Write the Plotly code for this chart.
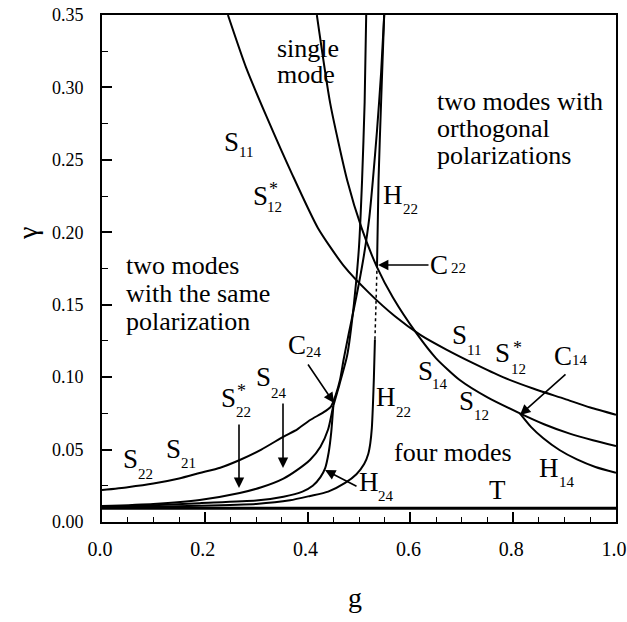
import plotly.graph_objects as go

# ---------------- data ----------------
s11_g = [0.245, 0.28, 0.32, 0.37, 0.42, 0.47, 0.52, 0.57, 0.62, 0.67, 0.72, 0.78, 0.84, 0.90, 0.95, 1.0]
s11_y = [0.350, 0.314, 0.280, 0.240, 0.203, 0.177, 0.158, 0.142, 0.129, 0.119, 0.110, 0.100, 0.092, 0.085, 0.079, 0.074]

s14_g = [0.418, 0.444, 0.477, 0.505, 0.535, 0.566, 0.612, 0.65, 0.696, 0.75, 0.813, 0.86, 0.91, 0.955, 1.0]
s14_y = [0.350, 0.289, 0.236, 0.203, 0.176, 0.155, 0.1302, 0.113, 0.098, 0.086, 0.075, 0.0675, 0.061, 0.0565, 0.0525]

h14_g = [0.813, 0.835, 0.858, 0.89, 0.924, 0.96, 1.0]
h14_y = [0.075, 0.0655, 0.058, 0.0497, 0.0432, 0.038, 0.034]

s22_g = [0.0, 0.05, 0.10, 0.15, 0.19, 0.23, 0.268, 0.31, 0.353, 0.38, 0.405, 0.43, 0.445, 0.455,
         0.463, 0.47, 0.48, 0.49, 0.50, 0.51, 0.52, 0.527, 0.535, 0.543, 0.549]
s22_y = [0.022, 0.024, 0.0265, 0.030, 0.0338, 0.0375, 0.0428, 0.050, 0.0589, 0.064, 0.0704, 0.0755, 0.0795, 0.088,
         0.098, 0.112, 0.130, 0.147, 0.165, 0.185, 0.210, 0.236, 0.270, 0.310, 0.350]

s2_g = [0.0, 0.10, 0.19, 0.268, 0.31, 0.353, 0.38, 0.405, 0.425, 0.44, 0.45, 0.462, 0.477, 0.49, 0.50, 0.506, 0.511, 0.514]
s2_y = [0.011, 0.0125, 0.0152, 0.020, 0.024, 0.030, 0.036, 0.043, 0.052, 0.064, 0.080, 0.095, 0.115, 0.150, 0.190, 0.236, 0.290, 0.350]

h24_g = [0.0, 0.10, 0.19, 0.30, 0.353, 0.39, 0.41, 0.425, 0.434, 0.441, 0.446, 0.45]
h24_y = [0.0105, 0.0115, 0.013, 0.0148, 0.0175, 0.021, 0.025, 0.031, 0.037, 0.048, 0.062, 0.080]

h22_g = [0.0, 0.10, 0.19, 0.30, 0.366, 0.405, 0.44, 0.473, 0.495, 0.510, 0.518, 0.522, 0.525, 0.527, 0.529, 0.531]
h22_y = [0.0102, 0.0106, 0.0112, 0.0125, 0.015, 0.018, 0.021, 0.027, 0.033, 0.040, 0.047, 0.0545, 0.065, 0.080, 0.100, 0.126]
h22_dot_g = [0.531, 0.533, 0.535]
h22_dot_y = [0.126, 0.150, 0.176]
h22_up_g = [0.535, 0.538, 0.543, 0.549]
h22_up_y = [0.176, 0.236, 0.290, 0.350]

t_g = [0.0, 1.0]
t_y = [0.0095, 0.0095]

x_ticks = [0.0, 0.2, 0.4, 0.6, 0.8, 1.0]
x_ticktext = ["0.0", "0.2", "0.4", "0.6", "0.8", "1.0"]
y_ticks = [0.00, 0.05, 0.10, 0.15, 0.20, 0.25, 0.30, 0.35]
y_ticktext = ["0.00", "0.05", "0.10", "0.15", "0.20", "0.25", "0.30", "0.35"]

# ---------------- figure ----------------
FONT = "Liberation Serif"
W, H = 627, 622
ML, MR, MT, MB = 102, 11, 15, 100
PW, PH = W - ML - MR, H - MT - MB


def gx(px):
    return (px - ML) / PW


def gy(py):
    return (MT + PH - py) / PH * 0.35


fig = go.Figure()


def curve(xs, ys, width=2.0, dash="solid"):
    fig.add_trace(go.Scatter(x=xs, y=ys, mode="lines",
                             line=dict(color="black", width=width, dash=dash, shape="spline", smoothing=0.6),
                             showlegend=False, hoverinfo="skip"))


curve(s11_g, s11_y)
curve(s14_g, s14_y)
curve(h14_g, h14_y)
curve(s22_g, s22_y)
curve(s2_g, s2_y)
curve(h24_g, h24_y)
curve(h22_g, h22_y)
curve(h22_dot_g, h22_dot_y, width=1.5, dash="dot")
curve(h22_up_g, h22_up_y)
curve(t_g, t_y, width=3)

ann = []


def txt(s, px, py, size=26, xanchor="center"):
    ann.append(dict(x=gx(px), y=gy(py), xref="x", yref="y", text=s, showarrow=False,
                    xanchor=xanchor, yanchor="middle",
                    font=dict(family=FONT, size=size, color="black")))


def lab(main, mx, my, sub=None, sx=None, sy=None, star=None):
    txt(main, mx, my, size=27)
    if sub:
        txt(sub, sx, sy, size=15)
    if star:
        txt("*", star[0], star[1], size=18)


def arrow(tipx, tipy, tailx, taily):
    ann.append(dict(x=gx(tipx), y=gy(tipy), xref="x", yref="y", text="",
                    showarrow=True, ax=tailx - tipx, ay=taily - tipy,
                    arrowhead=2, arrowsize=1.3, arrowwidth=1.6, arrowcolor="black", standoff=0))


# region texts
txt("single", 275, 48, xanchor="left")
txt("mode", 275, 74, xanchor="left")
txt("two modes with", 435, 101, xanchor="left")
txt("orthogonal", 435, 128, xanchor="left")
txt("polarizations", 435, 155, xanchor="left")
txt("two modes", 124, 265, xanchor="left")
txt("with the same", 124, 293, xanchor="left")
txt("polarization", 124, 321, xanchor="left")
txt("four modes", 453, 452)
txt("T", 497, 490, size=27)

# curve labels
lab("S", 231.5, 141.5, "11", 245.5, 152)
lab("S", 260, 196, "12", 274.5, 206.5, star=(273.5, 189))
lab("H", 393, 195, "22", 410, 209)
lab("C", 439, 265, "22", 458, 268)
lab("C", 297, 345, "24", 314, 352)
lab("S", 263.5, 376.5, "24", 278.5, 392.5)
lab("S", 228.5, 397.5, "22", 243.5, 412, star=(241, 391))
lab("S", 130, 459, "22", 145, 474)
lab("S", 173.5, 449, "21", 188.5, 463)
lab("S", 459.5, 335, "11", 473.5, 350)
lab("S", 502.5, 353, "12", 518.5, 369, star=(517, 348))
lab("C", 562.5, 356, "14", 580, 360)
lab("S", 425, 371, "14", 440, 384)
lab("S", 466.5, 401, "12", 481.5, 415)
lab("H", 385.5, 396.5, "22", 403.5, 412)
lab("H", 368.5, 481.5, "24", 386, 496)
lab("H", 549, 467.5, "14", 566.5, 482)

# arrows
arrow(378, 265, 430, 265)
arrow(334, 403, 307, 363)
arrow(283, 468, 283, 402)
arrow(239, 488, 239, 423)
arrow(520, 415, 567, 373)
arrow(325, 470, 358, 487)

# axis titles
ann.append(dict(x=(27 - ML) / PW, y=(MT + PH - 234) / PH, xref="paper", yref="paper", text="γ",
                showarrow=False, textangle=-90, xanchor="center", yanchor="middle",
                font=dict(family=FONT, size=28, color="black")))
ann.append(dict(x=gx(355), y=(MT + PH - 598) / PH, xref="x", yref="paper", text="g", showarrow=False,
                xanchor="center", yanchor="middle", font=dict(family=FONT, size=28, color="black")))

fig.update_layout(
    width=W, height=H,
    margin=dict(l=ML, r=MR, t=MT, b=MB, autoexpand=False),
    paper_bgcolor="white", plot_bgcolor="white",
    annotations=ann,
    font=dict(family=FONT, color="black"),
    hovermode=False,
    xaxis=dict(range=[0, 1], tickvals=x_ticks, ticktext=x_ticktext, ticks="inside", ticklen=10, tickwidth=1.5,
               tickcolor="black", showline=True, linecolor="black", linewidth=2, mirror=True, automargin=False,
               showgrid=False, zeroline=False, tickfont=dict(family=FONT, size=20, color="black"),
               ticklabelstandoff=8, ticklabelshift=-2, ticklabeloverflow="allow",
               minor=dict(dtick=0.05, ticks="inside", ticklen=5, tickwidth=1.2, tickcolor="black", showgrid=False)),
    yaxis=dict(range=[0, 0.35], tickvals=y_ticks, ticktext=y_ticktext, ticks="inside", ticklen=10, tickwidth=1.5,
               tickcolor="black", showline=True, linecolor="black", linewidth=2, mirror=True, automargin=False,
               showgrid=False, zeroline=False, tickfont=dict(family=FONT, size=18, color="black"),
               ticklabelstandoff=13,
               minor=dict(dtick=0.025, ticks="inside", ticklen=6, tickwidth=1.2, tickcolor="black", showgrid=False)),
)

fig.write_html("out.html", config={"displayModeBar": False},
               post_script="document.body.style.margin='0px';document.body.style.padding='0px';")
